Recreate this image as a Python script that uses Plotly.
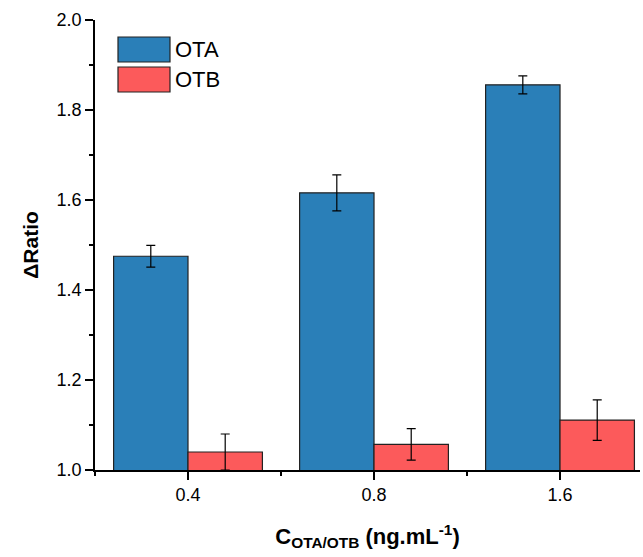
import plotly.graph_objects as go

categories = ["0.4", "0.8", "1.6"]
ota_values = [1.475, 1.616, 1.856]
ota_errors = [0.024, 0.040, 0.020]
otb_values = [1.040, 1.057, 1.111]
otb_errors = [0.040, 0.035, 0.045]

ota_color = "#2A7FB8"
otb_color = "#FC5A5B"
xpos = list(range(len(categories)))

fig = go.Figure()
fig.add_trace(go.Bar(
    x=xpos, y=ota_values, name="OTA", base=0,
    marker=dict(color=ota_color, line=dict(color="#222222", width=1.2)),
    error_y=dict(type="data", array=ota_errors, color="black", thickness=1.2, width=4.5),
    showlegend=False,
))
fig.add_trace(go.Bar(
    x=xpos, y=otb_values, name="OTB", base=0,
    marker=dict(color=otb_color, line=dict(color="#222222", width=1.2)),
    error_y=dict(type="data", array=otb_errors, color="black", thickness=1.2, width=4.5),
    showlegend=False,
))

font_family = "Liberation Sans, Arial, sans-serif"

fig.update_layout(
    width=643, height=557,
    margin=dict(l=95, r=3, t=20, b=87),
    paper_bgcolor="white", plot_bgcolor="white",
    barmode="group", bargap=0.2, bargroupgap=0,
    font=dict(family=font_family, size=18, color="black"),
    xaxis=dict(
        range=[-0.5, 2.43],
        tickmode="array", tickvals=xpos, ticktext=categories,
        tickfont=dict(size=18),
        showline=True, linecolor="black", linewidth=1.5,
        ticks="outside", ticklen=8, tickwidth=1.5, tickcolor="black",
        minor=dict(tickmode="linear", tick0=0.5, dtick=1, ticks="outside",
                   ticklen=4, tickwidth=1.5, tickcolor="black"),
        showgrid=False, zeroline=False,
        title=dict(text="<b>C<sub>OTA/OTB</sub> (ng.mL<sup>-1</sup>)</b>",
                   font=dict(size=22), standoff=24),
    ),
    yaxis=dict(
        range=[1.0, 2.0],
        tickmode="linear", tick0=1.0, dtick=0.2, tickformat=".1f",
        tickfont=dict(size=18),
        showline=True, linecolor="black", linewidth=1.5,
        ticks="outside", ticklen=8, tickwidth=1.5, tickcolor="black",
        minor=dict(tickmode="linear", tick0=1.0, dtick=0.1, ticks="outside",
                   ticklen=4, tickwidth=1.5, tickcolor="black"),
        showgrid=False, zeroline=False,
        title=dict(text="<b>ΔRatio</b>", font=dict(size=21), standoff=12),
    ),
)

# Manual legend (swatches + labels) in paper coordinates
legend_items = [("OTA", ota_color), ("OTB", otb_color)]
plot_w = 643 - 95 - 3
plot_h = 557 - 20 - 87
def px_to_paper_x(px):
    return (px - 95) / plot_w
def px_to_paper_y(py):
    return (557 - 87 - py) / plot_h
tops = [37, 67]
for (label, color), top in zip(legend_items, tops):
    fig.add_shape(type="rect", xref="paper", yref="paper",
                  x0=px_to_paper_x(118), x1=px_to_paper_x(170),
                  y0=px_to_paper_y(top + 25), y1=px_to_paper_y(top),
                  fillcolor=color, line=dict(color="#222222", width=1.2))
    fig.add_annotation(xref="paper", yref="paper",
                       x=px_to_paper_x(173), y=px_to_paper_y(top + 12.5),
                       text=label, showarrow=False, xanchor="left", yanchor="middle",
                       font=dict(size=22, family=font_family, color="black"))

fig.write_html("out.html")
